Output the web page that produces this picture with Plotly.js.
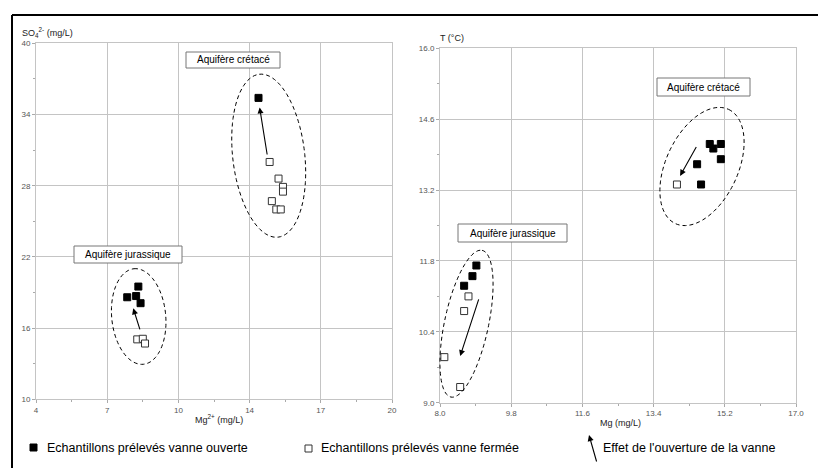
<!DOCTYPE html>
<html>
<head>
<meta charset="utf-8">
<script src="https://cdn.plot.ly/plotly-3.0.1.min.js"></script>
<style>html,body{margin:0;padding:0;background:#fff;}#chart{width:818px;height:468px;}</style>
</head>
<body>
<div id="chart"></div>
<script>
// ---- Left chart: SO4 vs Mg2+ ----
const leftCretOpenX = [14.5, 14.9, 15.1, 15.1, 14.6, 14.8, 15.0];
const leftCretOpenY = [30.0, 28.6, 27.9, 27.5, 26.7, 26.0, 26.0];
const leftCretFilledX = [14.0];
const leftCretFilledY = [35.4];
const leftJurFilledX = [8.6, 8.1, 8.5, 8.7];
const leftJurFilledY = [19.5, 18.6, 18.7, 18.1];
const leftJurOpenX = [8.55, 8.8, 8.9];
const leftJurOpenY = [15.05, 15.1, 14.7];
const leftXTickVals = [4, 7.2, 10.4, 13.6, 16.8, 20];
const leftXTickText = ['4', '7', '10', '14', '17', '20'];
const leftYTickVals = [10, 16, 22, 28, 34, 40];
// arrows [tailX, tailY, headX, headY]
const leftArrows = [[14.4, 30.5, 14.05, 34.6], [8.69, 15.76, 8.37, 17.67]];

// ---- Right chart: T vs Mg ----
const rightCretFilledX = [14.82, 14.91, 15.1, 15.1, 14.5, 14.6];
const rightCretFilledY = [14.11, 14.02, 14.11, 13.81, 13.71, 13.31];
const rightCretOpenX = [13.99];
const rightCretOpenY = [13.31];
const rightJurFilledX = [8.92, 8.82, 8.61];
const rightJurFilledY = [11.71, 11.5, 11.31];
const rightJurOpenX = [8.72, 8.61, 8.11, 8.51];
const rightJurOpenY = [11.1, 10.81, 9.9, 9.31];
const rightXTickVals = [8.0, 9.8, 11.6, 13.4, 15.2, 17.0];
const rightYTickVals = [9.0, 10.4, 11.8, 13.2, 14.6, 16.0];
const rightArrows = [[14.5, 14.08, 14.07, 13.48], [8.99, 11.07, 8.51, 9.92]];

const W = 818, H = 468;
const px = x => x / W;
const py = y => 1 - y / H;

const FONT = 'Liberation Sans, Arial, sans-serif';
const filled = {symbol: 'square', size: 7, color: '#000', line: {color: '#000', width: 1}};
const open = {symbol: 'square', size: 7, color: '#fff', line: {color: '#333', width: 1}};

function sc(x, y, m, xa, ya) {
  return {type: 'scatter', mode: 'markers', x: x, y: y, marker: m, xaxis: xa, yaxis: ya, hoverinfo: 'skip'};
}

const data = [
  sc(leftCretOpenX, leftCretOpenY, open, 'x', 'y'),
  sc(leftCretFilledX, leftCretFilledY, filled, 'x', 'y'),
  sc(leftJurOpenX, leftJurOpenY, open, 'x', 'y'),
  sc(leftJurFilledX, leftJurFilledY, filled, 'x', 'y'),
  sc(rightCretOpenX, rightCretOpenY, open, 'x2', 'y2'),
  sc(rightCretFilledX, rightCretFilledY, filled, 'x2', 'y2'),
  sc(rightJurOpenX, rightJurOpenY, open, 'x2', 'y2'),
  sc(rightJurFilledX, rightJurFilledY, filled, 'x2', 'y2')
];

const gridC = '#c4c4c4';
const tickFont = {family: FONT, size: 8, color: '#555'};
function axis(extra) {
  return Object.assign({
    showgrid: true, gridcolor: gridC, gridwidth: 1,
    showline: true, linecolor: gridC, linewidth: 1, mirror: true,
    zeroline: false, ticks: 'outside', ticklen: 3, tickcolor: '#aaa',
    tickfont: tickFont, fixedrange: true
  }, extra);
}

// ellipse as path in pixel space -> paper
function ellipse(cx, cy, a, b, deg) {
  const t = deg * Math.PI / 180;
  const ux = Math.sin(t), uy = -Math.cos(t), vx = Math.cos(t), vy = Math.sin(t);
  let p = '';
  for (let i = 0; i <= 90; i++) {
    const s = i / 90 * 2 * Math.PI;
    const X = cx + a * Math.cos(s) * ux + b * Math.sin(s) * vx;
    const Y = cy + a * Math.cos(s) * uy + b * Math.sin(s) * vy;
    p += (i === 0 ? 'M' : 'L') + px(X).toFixed(5) + ',' + py(Y).toFixed(5) + ' ';
  }
  return {type: 'path', xref: 'paper', yref: 'paper', path: p + 'Z',
          line: {color: '#000', width: 1, dash: '4px,3px'}};
}
function box(x0, y0, x1, y1) {
  return {type: 'rect', xref: 'paper', yref: 'paper', x0: px(x0), x1: px(x1), y0: py(y1), y1: py(y0),
          line: {color: '#777', width: 1}, fillcolor: '#fff', layer: 'above'};
}

const shapes = [
  // outer frame
  {type: 'line', xref: 'paper', yref: 'paper', x0: px(12), x1: 1, y0: py(15), y1: py(15), line: {color: '#000', width: 2}},
  {type: 'line', xref: 'paper', yref: 'paper', x0: px(12), x1: px(12), y0: 0, y1: py(15), line: {color: '#000', width: 2}},
  ellipse(268.7, 155.7, 82, 36, -6.6),
  ellipse(138.7, 316.5, 48, 27, -5.6),
  ellipse(702, 166.5, 63, 36, 25),
  ellipse(466.5, 323.7, 75, 22, 12),
  box(186, 52, 280, 68),
  box(74, 246, 182, 263),
  box(657, 78, 750, 96),
  box(458, 224, 567, 242),
  // legend squares
  {type: 'rect', xref: 'paper', yref: 'paper', x0: px(30), x1: px(37), y0: py(451), y1: py(444), fillcolor: '#000', line: {color: '#000', width: 1}},
  {type: 'rect', xref: 'paper', yref: 'paper', x0: px(305), x1: px(312), y0: py(452), y1: py(445), fillcolor: '#fff', line: {color: '#333', width: 1}}
];

function txt(x, y, text, size, xanchor, color) {
  return {xref: 'paper', yref: 'paper', x: px(x), y: py(y), text: text, showarrow: false,
          xanchor: xanchor || 'center', yanchor: 'middle',
          font: {family: FONT, size: size, color: color || '#000'}};
}
function arrow(a, xr, yr) {
  return {xref: xr, yref: yr, axref: xr, ayref: yr, x: a[2], y: a[3], ax: a[0], ay: a[1],
          text: '', showarrow: true, arrowhead: 2, arrowsize: 1.1, arrowwidth: 1.1, arrowcolor: '#000'};
}

const annotations = [
  txt(233, 60, 'Aquifère crétacé', 10),
  txt(128, 254.5, 'Aquifère jurassique', 10),
  txt(703.5, 87, 'Aquifère crétacé', 10),
  txt(512.5, 233, 'Aquifère jurassique', 10),
  txt(20, 33, 'SO<sub>4</sub><sup>2-</sup> (mg/L)', 9, 'left', '#222'),
  txt(438, 38, 'T (°C)', 9, 'left', '#222'),
  txt(219, 419, 'Mg<sup>2+</sup> (mg/L)', 9, 'center', '#222'),
  txt(620, 423, 'Mg (mg/L)', 9, 'center', '#222'),
  txt(45, 448, 'Echantillons prélevés vanne ouverte', 12.5, 'left'),
  txt(319, 448, 'Echantillons prélevés vanne fermée', 12.5, 'left'),
  txt(601, 448, "Effet de l'ouverture de la vanne", 12.5, 'left'),
  {xref: 'paper', yref: 'paper', axref: 'pixel', ayref: 'pixel', x: px(589), y: py(435), ax: 8, ay: 28,
   text: '', showarrow: true, arrowhead: 2, arrowsize: 1.1, arrowwidth: 1.1, arrowcolor: '#000'}
].concat(leftArrows.map(a => arrow(a, 'x', 'y')), rightArrows.map(a => arrow(a, 'x2', 'y2')));

const layout = {
  width: W, height: H, margin: {l: 0, r: 0, t: 0, b: 0},
  paper_bgcolor: '#fff', plot_bgcolor: '#fff', showlegend: false,
  font: {family: FONT},
  xaxis: axis({domain: [px(36), px(392)], range: [4, 20], tickmode: 'array', tickvals: leftXTickVals, ticktext: leftXTickText,
               minor: {tickmode: 'linear', tick0: 4, dtick: 1.6, ticks: 'outside', ticklen: 2, tickcolor: '#aaa', showgrid: false},
               anchor: 'y'}),
  yaxis: axis({domain: [py(399.3), py(43.3)], range: [10, 40], tickmode: 'array', tickvals: leftYTickVals,
               minor: {tickmode: 'linear', tick0: 10, dtick: 3, ticks: 'outside', ticklen: 2, tickcolor: '#aaa', showgrid: false},
               anchor: 'x'}),
  xaxis2: axis({domain: [px(440), px(796)], range: [8, 17], tickmode: 'array', tickvals: rightXTickVals, tickformat: '.1f',
               minor: {tickmode: 'linear', tick0: 8, dtick: 0.9, ticks: 'outside', ticklen: 2, tickcolor: '#aaa', showgrid: false},
               anchor: 'y2'}),
  yaxis2: axis({domain: [py(402.7), py(48.3)], range: [9, 16], tickmode: 'array', tickvals: rightYTickVals, tickformat: '.1f',
               minor: {tickmode: 'linear', tick0: 9, dtick: 0.7, ticks: 'outside', ticklen: 2, tickcolor: '#aaa', showgrid: false},
               anchor: 'x2'}),
  shapes: shapes,
  annotations: annotations
};

Plotly.newPlot('chart', data, layout, {staticPlot: true, displayModeBar: false});
</script>
</body>
</html>
